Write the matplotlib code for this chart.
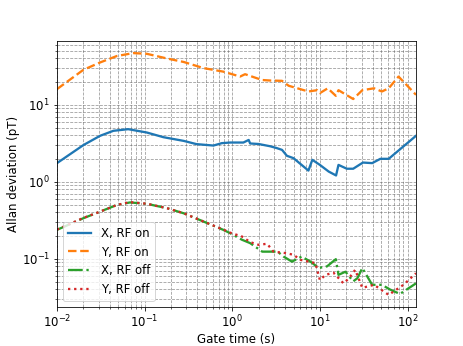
import matplotlib
matplotlib.use("Agg")
import matplotlib.pyplot as plt

plt.rcParams['font.size'] = 11.8

# Allan deviation vs gate time
tau_x_on = [0.01, 0.02, 0.031, 0.044, 0.065, 0.106, 0.164, 0.28, 0.39, 0.61, 0.76,
            0.95, 1.34, 1.54, 1.6, 2.0, 2.7, 3.2, 3.7, 4.2, 5.0, 7.4, 8.2, 10.0, 12.6,
            15.3, 16.3, 20.3, 24.0, 31.0, 39.5, 49.0, 61.0, 125.0]
x_on = [1.75, 3.0, 3.96, 4.6, 4.83, 4.37, 3.8, 3.4, 3.09, 2.96, 3.18,
        3.24, 3.24, 3.5, 3.15, 3.1, 2.9, 2.75, 2.6, 2.18, 2.03, 1.40, 1.93, 1.66, 1.36,
        1.21, 1.66, 1.48, 1.48, 1.78, 1.75, 1.99, 1.99, 3.96]

tau_y_on = [0.01, 0.02, 0.031, 0.048, 0.074, 0.106, 0.18, 0.28, 0.47, 0.79, 1.23,
            1.4, 1.9, 2.2, 2.7, 3.7, 4.4, 7.4, 9.3, 10.0, 12.3, 15.2, 16.3, 24.0,
            30.5, 41.5, 51.0, 61.0, 79.0, 125.0]
y_on = [16.0, 28.5, 35.5, 43.0, 47.0, 46.0, 40.0, 36.0, 30.0, 27.0, 23.3,
        25.0, 22.2, 21.0, 20.7, 20.5, 17.7, 14.9, 15.5, 14.2, 16.4, 13.1, 15.5, 11.9,
        15.5, 16.4, 14.9, 16.4, 23.3, 13.5]

tau_x_off = [0.01, 0.02, 0.031, 0.048, 0.068, 0.106, 0.18, 0.28, 0.47, 0.79, 0.95,
             1.29, 1.6, 2.2, 3.3, 3.85, 4.8, 6.2, 7.8, 9.7, 12.1, 15.2, 16.3, 19.6,
             24.0, 26.8, 30.5, 39.5, 51.0, 63.0, 82.0, 125.0]
x_off = [0.238, 0.337, 0.41, 0.50, 0.54, 0.518, 0.455, 0.39, 0.305, 0.238, 0.215,
         0.177, 0.16, 0.124, 0.124, 0.107, 0.092, 0.107, 0.092, 0.076, 0.08, 0.099, 0.062, 0.068,
         0.051, 0.056, 0.076, 0.046, 0.046, 0.04, 0.035, 0.048]

tau_y_off = [0.01, 0.02, 0.031, 0.048, 0.068, 0.106, 0.18, 0.28, 0.47, 0.79, 0.95,
             1.29, 1.6, 2.0, 2.5, 2.95, 4.0, 5.0, 6.0, 8.9, 10.0, 11.6, 14.3, 18.6,
             21.5, 25.3, 30.5, 41.5, 61.0, 75.0, 90.0, 125.0]
y_off = [0.24, 0.34, 0.41, 0.50, 0.545, 0.52, 0.455, 0.39, 0.305, 0.24, 0.218,
         0.195, 0.165, 0.152, 0.157, 0.124, 0.119, 0.113, 0.097, 0.088, 0.053, 0.062, 0.066, 0.048,
         0.056, 0.072, 0.042, 0.046, 0.034, 0.04, 0.046, 0.065]

fig, ax = plt.subplots(figsize=(463 / 72, 346 / 72), dpi=72)
fig.subplots_adjust(left=57 / 463, right=416 / 463, top=1 - 41 / 346, bottom=1 - 307 / 346)

ax.loglog(tau_x_on, x_on, '-', color='C0', lw=2.3, label='X, RF on')
ax.loglog(tau_y_on, y_on, '--', color='C1', lw=2.3, label='Y, RF on')
ax.loglog(tau_x_off, x_off, '-.', color='C2', lw=2.3, label='X, RF off')
ax.loglog(tau_y_off, y_off, ':', color='C3', lw=2.3, label='Y, RF off')

ax.set_xlim(0.01, 125)
ax.grid(True, which='both', ls='--', color='0.35', alpha=0.6)
ax.set_xlabel('Gate time (s)', labelpad=2)
ax.set_ylabel('Allan deviation (pT)', labelpad=2)
ax.legend(loc='lower left')

fig.savefig('out.png', dpi=72)
